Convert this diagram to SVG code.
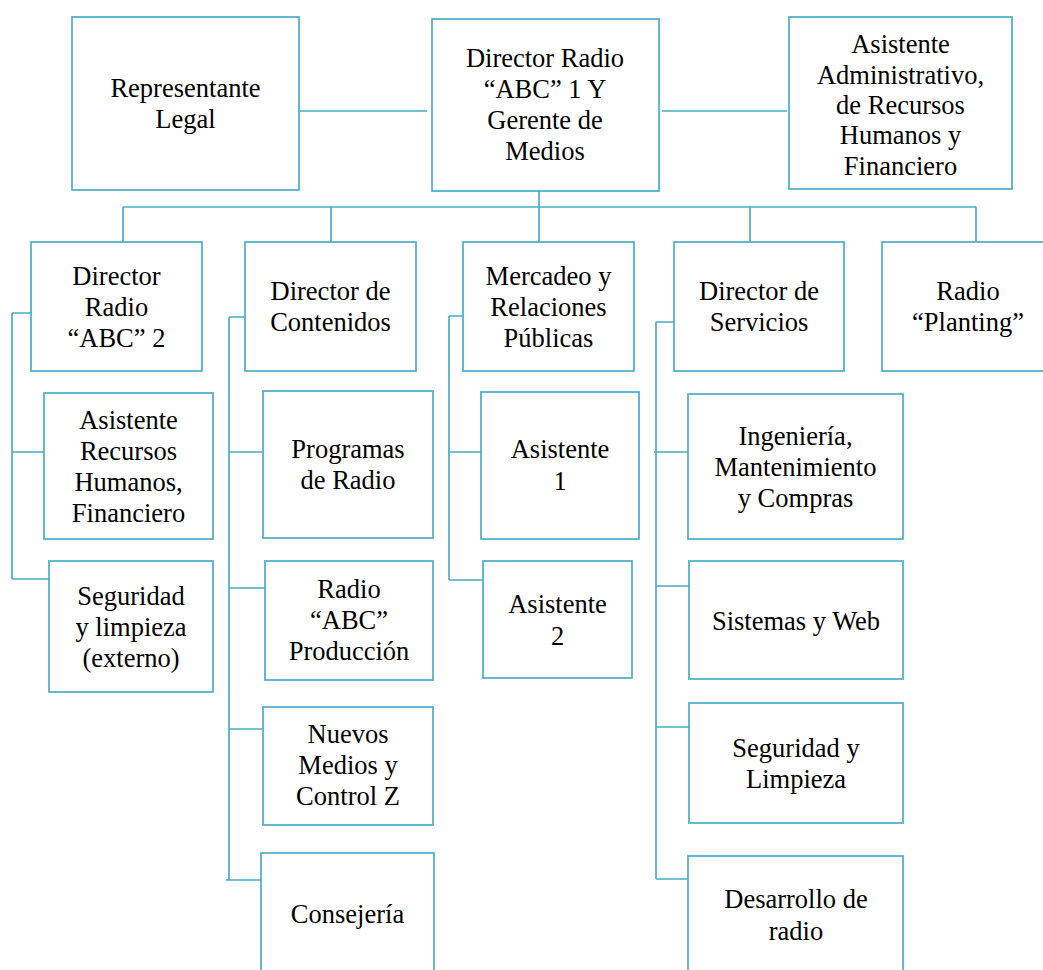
<svg xmlns="http://www.w3.org/2000/svg" width="1043" height="970" viewBox="0 0 1043 970" font-family="'Liberation Serif', Tinos, 'Times New Roman', Times, 'DejaVu Serif', serif">
<style>
.box{fill:#fff;stroke:#4bacc6;stroke-width:1.7}
.ln{fill:none;stroke:#4bacc6;stroke-width:1.7}
.t{font-family:'Liberation Serif', Tinos, 'Times New Roman', Times, 'DejaVu Serif', serif;font-size:26.5px;fill:#000;text-anchor:middle}
</style>
<rect width="1043" height="970" fill="#fff"/>
<g id="connectors">
<path class="ln" d="M299 111H427M662 111H787"/>
<path class="ln" d="M539 191V241M123 207H976M123 207V241M331 207V241M750 207V241M976 207V241"/>
<path class="ln" d="M12 313H31M12 313V579M12 452H44M12 579H49"/>
<path class="ln" d="M229 317H245M229 317V880M229 452H263M229 588H265M229 729H263M226 880H261"/>
<path class="ln" d="M449 316H463M449 316V580M449 452H481M449 580H483"/>
<path class="ln" d="M656 322H674M656 322V879M654 452H688M656 586H689M656 727H689M656 879H688"/>
</g>
<g class="t">
<g id="n-representante"><rect class="box" x="72" y="17" width="227" height="173"/><text x="185.5" y="97">Representante</text><text x="185.5" y="128">Legal</text></g>
<g id="n-director1"><rect class="box" x="432" y="19" width="227" height="172"/><text x="545" y="67">Director Radio</text><text x="545" y="98">“ABC” 1 Y</text><text x="545" y="129">Gerente de</text><text x="545" y="160">Medios</text></g>
<g id="n-asistadmin"><rect class="box" x="789" y="17" width="223" height="172"/><text x="900.5" y="53">Asistente</text><text x="900.5" y="84">Administrativo,</text><text x="900.5" y="114">de Recursos</text><text x="900.5" y="144">Humanos y</text><text x="900.5" y="175">Financiero</text></g>
<g id="n-director2"><rect class="box" x="31" y="242" width="171" height="129"/><text x="116.5" y="285">Director</text><text x="116.5" y="316">Radio</text><text x="116.5" y="347">“ABC” 2</text></g>
<g id="n-contenidos"><rect class="box" x="245" y="242" width="171" height="129"/><text x="330.5" y="300">Director de</text><text x="330.5" y="331">Contenidos</text></g>
<g id="n-mercadeo"><rect class="box" x="463" y="242" width="171" height="129"/><text x="548.5" y="285">Mercadeo y</text><text x="548.5" y="316">Relaciones</text><text x="548.5" y="347">Públicas</text></g>
<g id="n-servicios"><rect class="box" x="674" y="242" width="170" height="129"/><text x="759" y="300">Director de</text><text x="759" y="331">Servicios</text></g>
<g id="n-planting"><rect class="box" x="882" y="242" width="172" height="129"/><text x="968" y="300">Radio</text><text x="968" y="331">“Planting”</text></g>
<g id="n-asistrrhh"><rect class="box" x="44" y="393" width="169" height="146"/><text x="128.5" y="429">Asistente</text><text x="128.5" y="460">Recursos</text><text x="128.5" y="491">Humanos,</text><text x="128.5" y="522">Financiero</text></g>
<g id="n-seguridadext"><rect class="box" x="49" y="561" width="164" height="131"/><text x="131" y="605">Seguridad</text><text x="131" y="636">y limpieza</text><text x="131" y="667">(externo)</text></g>
<g id="n-programas"><rect class="box" x="263" y="391" width="170" height="147"/><text x="348" y="458">Programas</text><text x="348" y="489">de Radio</text></g>
<g id="n-produccion"><rect class="box" x="265" y="561" width="168" height="119"/><text x="349" y="598">Radio</text><text x="349" y="629">“ABC”</text><text x="349" y="660">Producción</text></g>
<g id="n-nuevos"><rect class="box" x="263" y="707" width="170" height="118"/><text x="348" y="743">Nuevos</text><text x="348" y="774">Medios y</text><text x="348" y="805">Control Z</text></g>
<g id="n-consejeria"><rect class="box" x="261" y="853" width="173" height="140"/><text x="347.5" y="923">Consejería</text></g>
<g id="n-asistente1"><rect class="box" x="481" y="392" width="158" height="147"/><text x="560" y="458">Asistente</text><text x="560" y="490">1</text></g>
<g id="n-asistente2"><rect class="box" x="483" y="561" width="149" height="117"/><text x="557.5" y="613">Asistente</text><text x="557.5" y="645">2</text></g>
<g id="n-ingenieria"><rect class="box" x="688" y="394" width="215" height="145"/><text x="795.5" y="445">Ingeniería,</text><text x="795.5" y="476">Mantenimiento</text><text x="795.5" y="507">y Compras</text></g>
<g id="n-sistemas"><rect class="box" x="689" y="561" width="214" height="118"/><text x="796" y="630">Sistemas y Web</text></g>
<g id="n-seguridad"><rect class="box" x="689" y="703" width="214" height="120"/><text x="796" y="757">Seguridad y</text><text x="796" y="788">Limpieza</text></g>
<g id="n-desarrollo"><rect class="box" x="688" y="856" width="215" height="140"/><text x="796" y="908">Desarrollo de</text><text x="796" y="940">radio</text></g>
</g>
</svg>
